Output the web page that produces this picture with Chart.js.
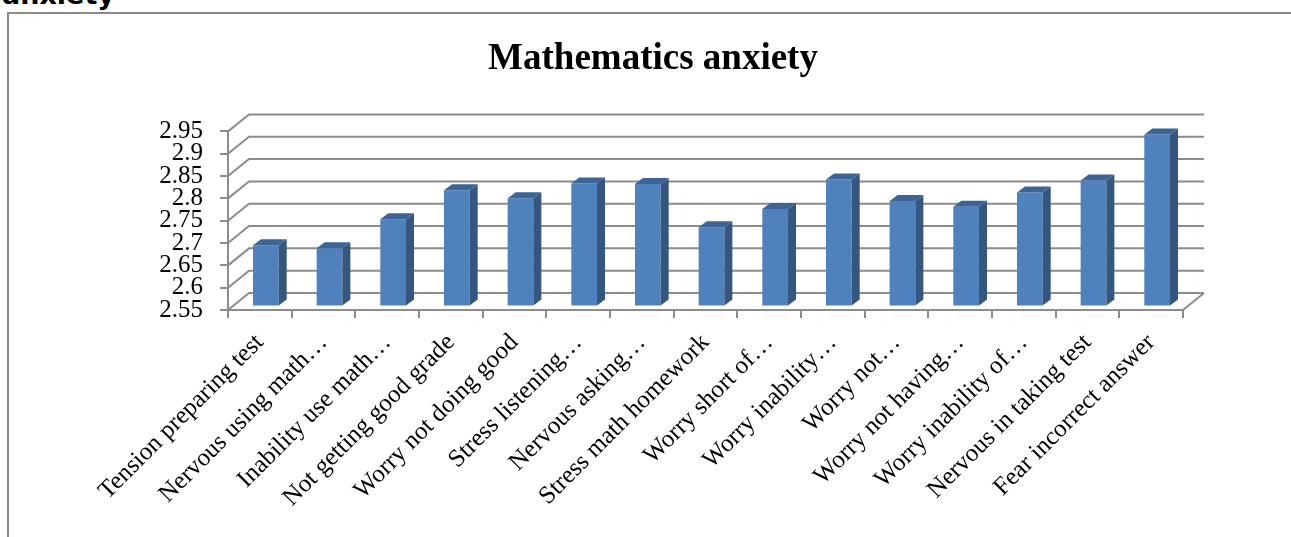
<!DOCTYPE html>
<html>
<head>
<meta charset="utf-8">
<script src="https://cdn.jsdelivr.net/npm/chart.js@4"></script>
<style>
  html, body { margin: 0; padding: 0; background: #fff; overflow: hidden; }
  .doc-heading {
    position: absolute; left: 2px; top: -19px;
    font: bold 27px/1 "DejaVu Sans", sans-serif; color: #000;
  }
  .frame {
    position: absolute; left: 7px; top: 12px; width: 1290px; height: 530px;
    border-left: 2px solid #8a8a8a; border-top: 2px solid #8a8a8a;
  }
  .wrap { position: absolute; left: 0; top: 0; width: 1291px; height: 537px; }
</style>
</head>
<body>
<div class="doc-heading">anxiety</div>
<div class="frame"></div>
<div class="wrap"><canvas id="anxietyChart" width="1291" height="537"></canvas></div>
<script>
  const categories = [
    'Tension preparing test',
    'Nervous using math\u2026',
    'Inability use math\u2026',
    'Not getting good grade',
    'Worry not doing good',
    'Stress listening\u2026',
    'Nervous asking\u2026',
    'Stress math homework',
    'Worry short of\u2026',
    'Worry inability\u2026',
    'Worry not\u2026',
    'Worry not having\u2026',
    'Worry inability of\u2026',
    'Nervous in taking test',
    'Fear incorrect answer'
  ];
  const meanScores = [2.685, 2.678, 2.743, 2.808, 2.79, 2.823, 2.822, 2.725, 2.766, 2.832, 2.784, 2.771, 2.803, 2.83, 2.933];
  const yTicks = [2.55, 2.6, 2.65, 2.7, 2.75, 2.8, 2.85, 2.9, 2.95];

  const serif = '"Liberation Serif", "Times New Roman", serif';
  const gridColor = '#8c8c8c';
  const wall = { dx: 21, dy: -17 };   // depth of the 3d box
  const barShift = { x: 6, y: -4.5 }; // bars sit a bit behind the front plane
  const barDepth = { x: 8, y: -6 };

  // fake 3d: side walls, back wall gridlines and bar side/top faces
  const depth3d = {
    id: 'depth3d',
    beforeDatasetsDraw(chart) {
      const { ctx, chartArea: a, scales: { y } } = chart;
      ctx.save();
      ctx.strokeStyle = gridColor;
      ctx.lineWidth = 2;
      y.ticks.forEach(t => {
        const py = y.getPixelForValue(t.value);
        ctx.beginPath();
        ctx.moveTo(a.left, py);
        ctx.lineTo(a.left + wall.dx, py + wall.dy);
        ctx.lineTo(a.right + wall.dx, py + wall.dy);
        ctx.stroke();
      });
      const by = y.getPixelForValue(y.min);
      ctx.beginPath();
      ctx.moveTo(a.right, by);
      ctx.lineTo(a.right + wall.dx, by + wall.dy);
      ctx.stroke();
      ctx.restore();
    },
    beforeDatasetDraw(chart) {
      chart.ctx.save();
      chart.ctx.translate(barShift.x, barShift.y);
    },
    afterDatasetDraw(chart, args) {
      const ctx = chart.ctx;
      const floor = chart.scales.y.getPixelForValue(chart.scales.y.min);
      args.meta.data.forEach(bar => {
        const x0 = bar.x - bar.width / 2, x1 = bar.x + bar.width / 2;
        const top = bar.y, bottom = Math.min(bar.base, floor);
        // side
        ctx.fillStyle = '#34567f';
        ctx.beginPath();
        ctx.moveTo(x1, top);
        ctx.lineTo(x1 + barDepth.x, top + barDepth.y);
        ctx.lineTo(x1 + barDepth.x, bottom + barDepth.y);
        ctx.lineTo(x1, bottom);
        ctx.closePath();
        ctx.fill();
        // top
        ctx.fillStyle = '#3c6596';
        ctx.beginPath();
        ctx.moveTo(x0, top);
        ctx.lineTo(x0 + barDepth.x, top + barDepth.y);
        ctx.lineTo(x1 + barDepth.x, top + barDepth.y);
        ctx.lineTo(x1, top);
        ctx.closePath();
        ctx.fill();
      });
      ctx.restore();
    }
  };

  new Chart(document.getElementById('anxietyChart').getContext('2d'), {
    type: 'bar',
    data: {
      labels: categories,
      datasets: [{
        data: meanScores,
        backgroundColor: '#4f81bd',
        borderWidth: 0,
        barPercentage: 0.404,
        categoryPercentage: 1
      }]
    },
    options: {
      responsive: false,
      animation: false,
      layout: { padding: { left: 123, right: 108, top: 0, bottom: 0 } },
      plugins: {
        legend: { display: false },
        tooltip: { enabled: false },
        title: {
          display: true,
          text: 'Mathematics anxiety',
          color: '#000',
          font: { family: serif, size: 37, weight: 'bold' },
          padding: { top: 37, bottom: 50 }
        }
      },
      scales: {
        x: {
          grid: { drawOnChartArea: false, drawTicks: true, tickLength: 8, color: gridColor, lineWidth: 2 },
          border: { display: true, color: gridColor, width: 2 },
          ticks: {
            autoSkip: false, maxRotation: 45, minRotation: 45, color: '#000', padding: 10,
            font: { family: serif, size: 25 }
          },
          afterFit: s => { s.height = 227; s.paddingLeft = 0; s.paddingRight = 0; }
        },
        y: {
          min: 2.55, max: 2.95,
          afterBuildTicks: s => { s.ticks = yTicks.map(v => ({ value: v })); },
          grid: { drawOnChartArea: false, drawTicks: true, tickLength: 8, color: gridColor, lineWidth: 2 },
          border: { display: true, color: gridColor, width: 2 },
          ticks: {
            autoSkip: false, color: '#000', padding: 17,
            font: { family: serif, size: 25 },
            callback: v => String(+v.toFixed(2))
          },
          afterFit: s => { s.width = 105; }
        }
      }
    },
    plugins: [depth3d]
  });
</script>
</body>
</html>
